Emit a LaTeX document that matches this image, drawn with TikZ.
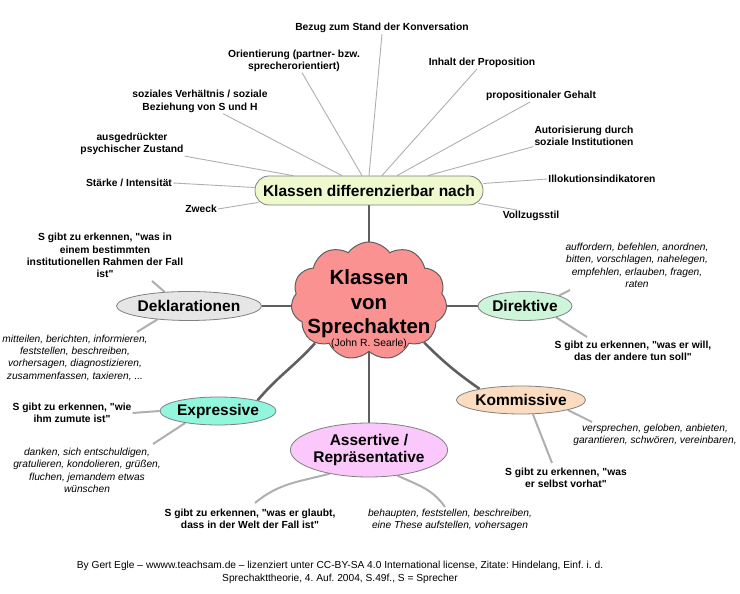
\documentclass[tikz,border=0pt]{standalone}
\usepackage{fontspec}
\setmainfont{Liberation Sans}[Ligatures=TeXOff]
\usetikzlibrary{shapes.geometric,shapes.symbols,backgrounds}
\definecolor{cloudfill}{RGB}{250,146,146}
\definecolor{topfill}{RGB}{238,250,205}
\definecolor{dekfill}{RGB}{230,230,230}
\definecolor{dirfill}{RGB}{205,245,218}
\definecolor{komfill}{RGB}{252,220,192}
\definecolor{assfill}{RGB}{250,200,250}
\definecolor{expfill}{RGB}{146,245,222}
\definecolor{edgecol}{RGB}{128,128,128}
\definecolor{maincol}{RGB}{95,95,95}
\definecolor{spokecol}{RGB}{175,175,175}
\frenchspacing
\begin{document}
\begin{tikzpicture}[x=1pt,y=1pt,
  bubble/.style={ellipse, draw=edgecol, line width=0.8pt, inner sep=0pt, font=\bfseries\fontsize{15.5}{17.5}\selectfont, align=center},
  lbl/.style={font=\bfseries\fontsize{10.3}{12.3}\selectfont, align=center, inner sep=1pt},
  ital/.style={font=\itshape\fontsize{10.2}{12.3}\selectfont, align=center, inner sep=1pt},
  mainline/.style={draw=maincol, line width=2.6pt},
  spoke/.style={draw=spokecol, line width=0.9pt},
  subline/.style={draw=spokecol, line width=2pt},
]
\useasboundingbox (0,0) rectangle (740,594);

% central cloud
\node[cloud, cloud puffs=11, cloud puff arc=110, draw=maincol, fill=cloudfill, line width=1pt,
      minimum width=156, minimum height=118, inner sep=0pt] (cloud) at (369,293) {};
\node[font=\bfseries\fontsize{20.5}{24.5}\selectfont, align=center, inner sep=0pt] (title) at (369,285)
  {Klassen\\von\\Sprechakten\\[-12pt]{\normalfont\fontsize{10.4}{12}\selectfont (John R. Searle)}};

% top node
\node[rectangle, rounded corners=14pt, draw=edgecol, fill=topfill, line width=0.8pt,
      minimum width=228, minimum height=29, inner sep=0pt,
      font=\bfseries\fontsize{15.5}{17}\selectfont] (top) at (369,403.5) {Klassen differenzierbar nach};

% class ellipses
\node[bubble, fill=dekfill, minimum width=142, minimum height=29] (dek) at (189,288) {Deklarationen};
\node[bubble, fill=dirfill, minimum width=94, minimum height=29] (dir) at (525,288) {Direktive};
\node[bubble, fill=komfill, minimum width=128, minimum height=28] (kom) at (521,194) {Kommissive};
\node[bubble, fill=assfill, minimum width=154, minimum height=54] (ass) at (369,144) {Assertive /\\Repräsentative};
\node[bubble, fill=expfill, minimum width=116, minimum height=28] (exp) at (218,183) {Expressive};

% labels around top node
\node[lbl] (bezug) at (382,566) {Bezug zum Stand der Konversation};
\node[lbl] (orient) at (294,533.5) {Orientierung (partner- bzw.\\sprecherorientiert)};
\node[lbl] (sozial) at (200,492.5) {soziales Verhältnis / soziale\\Beziehung von S und H};
\node[lbl] (ausg) at (132,450) {ausgedrückter\\psychischer Zustand};
\node[lbl] (staerke) at (129,411) {Stärke / Intensität};
\node[lbl] (zweck) at (201,385) {Zweck};
\node[lbl] (inhalt) at (482,531) {Inhalt der Proposition};
\node[lbl] (propg) at (541,498) {propositionaler Gehalt};
\node[lbl] (autor) at (584,458.5) {Autorisierung durch\\soziale Institutionen};
\node[lbl] (illok) at (602,415) {Illokutionsindikatoren};
\node[lbl] (vollz) at (531,378) {Vollzugsstil};

% sub labels
\node[lbl] (dekS) at (105,338.5) {S gibt zu erkennen, "was in\\einem bestimmten\\institutionellen Rahmen der Fall\\ist"};
\node[ital] (dekI) at (75,236.25) {mitteilen, berichten, informieren,\\feststellen, beschreiben,\\vorhersagen, diagnostizieren,\\zusammenfassen, taxieren, ...};
\node[lbl] (expS) at (72,181) {S gibt zu erkennen, "wie\\ihm zumute ist"};
\node[ital] (expI) at (87,123.5) {danken, sich entschuldigen,\\gratulieren, kondolieren, grüßen,\\fluchen, jemandem etwas\\wünschen};
\node[lbl] (assS) at (250,75) {S gibt zu erkennen, "was er glaubt,\\dass in der Welt der Fall ist"};
\node[ital] (assI) at (450,74) {behaupten, feststellen, beschreiben,\\eine These aufstellen, vohersagen};
\node[lbl] (komS) at (566,116) {S gibt zu erkennen, "was\\er selbst vorhat"};
\node[ital] (komI) at (655,159) {versprechen, geloben, anbieten,\\garantieren, schwören, vereinbaren,};
\node[ital] (dirI) at (637,328.5) {auffordern, befehlen, anordnen,\\bitten, vorschlagen, nahelegen,\\empfehlen, erlauben, fragen,\\raten};
\node[lbl] (dirS) at (633,243) {S gibt zu erkennen, "was er will,\\das der andere tun soll"};

% footer
\node[font=\fontsize{10.2}{13}\selectfont, align=center] (foot) at (340,21.5)
  {By Gert Egle – wwww.teachsam.de – lizenziert unter CC-BY-SA 4.0 International license, Zitate: Hindelang, Einf. i. d.\\Sprechakttheorie, 4. Auf. 2004, S.49f., S = Sprecher};

% free ends of the short connectors
\coordinate (dekSend) at (152,313);
\coordinate (dekIend) at (137,262);
\coordinate (expIend) at (153,150);
\coordinate (assSend) at (255,91);
\coordinate (assIend) at (445,87);
\coordinate (komSend) at (552,131);
\coordinate (komIend) at (592,172);
\coordinate (dirIend) at (570,304);
\coordinate (dirSend) at (587,257);

\begin{pgfonlayer}{background}
% main connectors
\draw[mainline] (top.south) -- (cloud.center);
\draw[mainline] (dek.east) -- (dek.east -| cloud.center);
\draw[mainline] (dir.west) -- (dir.west -| cloud.center);
\draw[mainline] (cloud.center) -- (ass.north);
\draw[mainline] (cloud.-37) to[out=-45,in=145] (kom.165);
\draw[mainline] (cloud.218) to[out=228,in=50] (exp.15);

% spokes of the top node
\draw[spoke] (top.north) -- (bezug.south);
\draw[spoke] ([xshift=-7pt]top.north) -- ([xshift=8pt]orient.south);
\draw[spoke] ([xshift=-27pt]top.north) -- ([xshift=23pt]sozial.south);
\draw[spoke] ([xshift=-76pt]top.north) -- (ausg.south east);
\draw[spoke] ([yshift=3pt]top.west) -- (staerke.east);
\draw[spoke] ([xshift=4pt,yshift=3pt]top.south west) -- (zweck.east);
\draw[spoke] ([xshift=13pt]top.north) -- ([xshift=-5pt]inhalt.south);
\draw[spoke] ([xshift=28pt]top.north) -- ([xshift=-11pt]propg.south);
\draw[spoke] ([xshift=59pt]top.north) -- (autor.south west);
\draw[spoke] ([yshift=7pt]top.east) -- (illok.west);
\draw[spoke] ([xshift=-5pt,yshift=2pt]top.south east) -- ([xshift=-14pt]vollz.north);

% short connectors to the descriptions
\draw[subline] (dek.150) -- (dekSend);
\draw[subline] (dek.203) -- (dekIend);
\draw[subline] (exp.west) -- (expS.east);
\draw[subline] (exp.200) -- (expIend);
\draw[subline] (ass.211) to[out=195,in=40] (assSend);
\draw[subline] (ass.-42) to[out=-25,in=125] (assIend);
\draw[subline] (kom.-50) -- (komSend);
\draw[subline] (kom.-12) -- (komIend);
\draw[subline] (dir.17) -- (dirIend);
\draw[subline] (dir.-20) -- (dirSend);
\end{pgfonlayer}
\end{tikzpicture}
\end{document}
